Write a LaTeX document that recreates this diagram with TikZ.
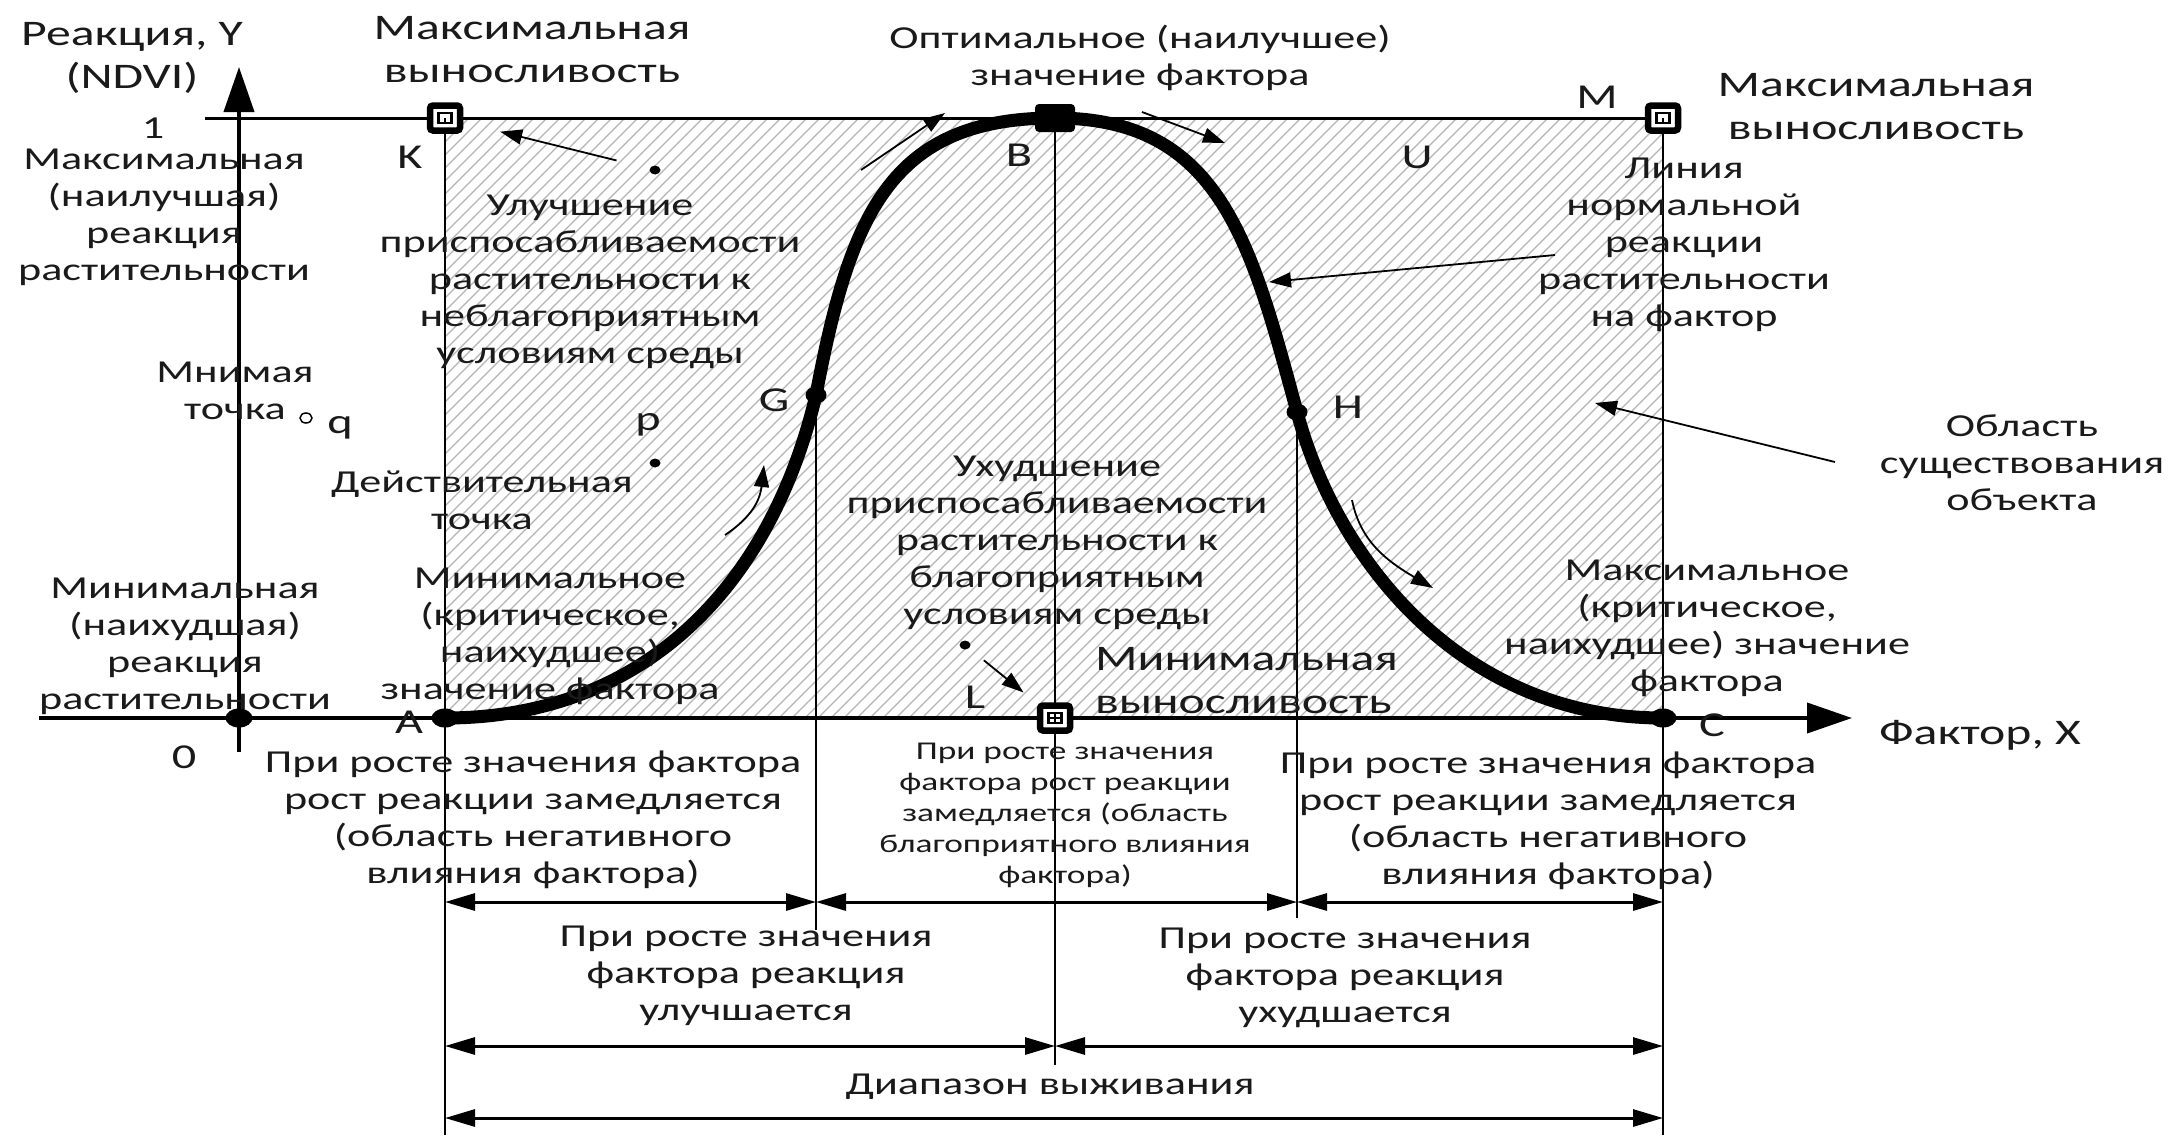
\documentclass[tikz,border=0pt]{standalone}
\usepackage{fontspec}
\setmainfont[FakeStretch=1.38]{Carlito}
\usetikzlibrary{arrows.meta,shapes.geometric}
\definecolor{ink}{HTML}{1A1A1A}
\definecolor{hatchc}{HTML}{B4B4B4}
\newcommand\fmain{\fontsize{32}{37}\selectfont}
\newcommand\ftitle{\fontsize{36}{43}\selectfont}
\newcommand\fsmall{\fontsize{25.6}{31}\selectfont}
\newcommand\flbl{\fontsize{35}{40}\selectfont}
\begin{document}
\begin{tikzpicture}[x=1pt,y=-1pt,
  txt/.style={align=center,inner sep=0pt,text=ink,font=\fmain},
  ttl/.style={align=center,inner sep=0pt,text=ink,font=\ftitle},
  sml/.style={align=center,inner sep=0pt,text=ink,font=\fsmall},
  lbl/.style={inner sep=0pt,text=ink,font=\flbl},
  axisline/.style={line width=4pt,-{Triangle[length=45pt,width=30pt]}},
  vline/.style={line width=2.5pt},
  dimarrow/.style={line width=3pt,{Triangle[length=30pt,width=17pt]}-{Triangle[length=30pt,width=17pt]}},
  ptr/.style={line width=1.8pt,-{Triangle[length=22pt,width=15pt]}},
  curveline/.style={line width=13pt,line join=round},
  dotbig/.style={ellipse,fill=black,inner sep=0pt,minimum width=27pt,minimum height=19pt},
  dotmid/.style={ellipse,fill=black,inner sep=0pt,minimum width=21pt,minimum height=17pt},
  dotsmall/.style={ellipse,fill=black,inner sep=0pt,minimum width=11pt,minimum height=9pt},
  dotopen/.style={ellipse,draw=black,line width=1.5pt,fill=white,inner sep=0pt,minimum width=12pt,minimum height=10pt},
  sqmark/.style={draw=black,line width=6.5pt,rounded corners=3pt,fill=white,inner sep=0pt,minimum width=30pt,minimum height=25pt},
  sqfill/.style={fill=black,rounded corners=4pt,inner sep=0pt,minimum width=40pt,minimum height=28pt},
  innerbox/.style={draw=black,line width=2.5pt,inner sep=0pt,minimum width=13pt,minimum height=10pt}
]
\useasboundingbox (0,0) rectangle (2183,1135);
\fill[white] (0,0) rectangle (2183,1135);

% key points
\coordinate (O) at (239,718);
\coordinate (Ytop) at (239,67);
\coordinate (Ybot) at (239,752);
\coordinate (Xl) at (39,718);
\coordinate (Xr) at (1852,718);
\coordinate (T0) at (205,118);
\coordinate (K) at (445,118);
\coordinate (M) at (1663,118);
\coordinate (B) at (1055,118);
\coordinate (A) at (445,718);
\coordinate (C) at (1663,718);
\coordinate (G) at (816,395);
\coordinate (H) at (1297,412);
\coordinate (L) at (1055,718);
\coordinate (Kb) at (445,1135);
\coordinate (Mb) at (1663,1135);
\coordinate (Bb) at (1055,1065);
\coordinate (Gb) at (816,930);
\coordinate (Hb) at (1297,918);

% hatched region
\begin{scope}
  \clip (K) rectangle (C);
  \foreach \i in {0,...,142}
    \draw[hatchc,line width=1.3pt] (\i*13-170,718) -- ++(620,-620);
\end{scope}

% lines
\draw[line width=3pt] (T0) -- (M);
\draw[vline] (K) -- (Kb);
\draw[vline] (M) -- (Mb);
\draw[line width=2pt] (B) -- (Bb);
\draw[line width=2pt] (G) -- (Gb);
\draw[line width=2pt] (H) -- (Hb);
\draw[axisline] (Ybot) -- (Ytop);
\draw[axisline] (Xl) -- (Xr);

% response curve
\draw[curveline] (A) .. controls (645,718) and (771,585) .. (G)
  .. controls (850,215) and (890,118) .. (B)
  .. controls (1220,118) and (1251,242) .. (H)
  .. controls (1337,562) and (1463,718) .. (C);

% markers
\node[dotbig] (Odot) at (O) {};
\node[dotbig] (Adot) at (A) {};
\node[dotbig] (Cdot) at (C) {};
\node[dotmid] (Gdot) at (G) {};
\node[dotmid] (Hdot) at (H) {};
\node[sqmark] (Km) at (K) {};
\node[innerbox] (Ki) at (K) {};
\draw[line width=2.5pt] (Ki.center) -- (Ki.south);
\node[sqmark] (Mm) at (M) {};
\node[innerbox] (Mi) at (M) {};
\draw[line width=2.5pt] (Mi.center) -- (Mi.south);
\node[sqfill] (Bm) at (B) {};
\node[sqmark] (Lm) at (L) {};
\node[innerbox] (Li) at (L) {};
\draw[line width=2.5pt] (Li.north) -- (Li.south) (Li.west) -- (Li.east);

% small points
\node[dotsmall] (kdot) at (655,170) {};
\node[dotsmall] (pdot) at (655,463) {};
\node[dotopen] (qdot) at (306,418) {};
\node[dotsmall] (ldot) at (965,645) {};

% pointer arrows
\draw[ptr,shorten <=34pt,shorten >=38pt] (kdot) -- (Km);
\draw[ptr,shorten <=19pt,shorten >=17pt] (ldot) -- (Lm);
\coordinate (b1s) at (861,170); \coordinate (b1e) at (945,113);
\draw[ptr] (b1s) -- (b1e);
\coordinate (b2s) at (1142,112); \coordinate (b2e) at (1225,143);
\draw[ptr] (b2s) -- (b2e);
\coordinate (g1s) at (725,535); \coordinate (g1e) at (764,465);
\draw[ptr] (g1s) .. controls (752,517) and (760,500) .. (g1e);
\coordinate (h1s) at (1352,500); \coordinate (h1e) at (1433,588);
\draw[ptr] (h1s) .. controls (1360,540) and (1385,560) .. (h1e);
\coordinate (n1s) at (1555,255); \coordinate (n1e) at (1269,282);
\draw[ptr] (n1s) -- (n1e);
\coordinate (o1s) at (1835,462); \coordinate (o1e) at (1595,403);
\draw[ptr] (o1s) -- (o1e);

% dimension arrows
\coordinate (r1) at (0,902);
\coordinate (r2) at (0,1046);
\coordinate (r3) at (0,1118);
\draw[dimarrow] (K |- r1) -- (G |- r1);
\draw[dimarrow] (G |- r1) -- (H |- r1);
\draw[dimarrow] (H |- r1) -- (M |- r1);
\draw[dimarrow] (K |- r2) -- (B |- r2);
\draw[dimarrow] (B |- r2) -- (M |- r2);
\draw[dimarrow] (K |- r3) -- (M |- r3);

% letter labels
\node[lbl] (lK) at (410,157) {K};
\node[lbl] (lB) at (1019,155) {B};
\node[lbl] (lU) at (1417,157) {U};
\node[lbl] (lM) at (1597,97) {M};
\node[lbl] (lG) at (774,400) {G};
\node[lbl] (lH) at (1348,407) {H};
\node[lbl] (lq) at (340,428) {q};
\node[lbl] (lp) at (648,425) {p};
\node[lbl] (lL) at (975,697) {L};
\node[lbl] (lA) at (409,722) {A};
\node[lbl] (lC) at (1712,725) {C};
\node[lbl] (l0) at (184,757) {0};
\node[txt] (l1) at (153,128) {1};

% texts
\node[ttl] (tY) at (132,58) {Реакция, Y\\(NDVI)};
\node[ttl] (tMaxL) at (532,50) {Максимальная\\выносливость};
\node[txt] (tOpt) at (1140,58) {Оптимальное (наилучшее)\\значение фактора};
\node[ttl] (tMaxR) at (1876,107) {Максимальная\\выносливость};
\node[txt] (tLine) at (1684,245) {Линия\\нормальной\\реакции\\растительности\\на фактор};
\node[txt] (tBest) at (164,217) {Максимальная\\(наилучшая)\\реакция\\растительности};
\node[txt] (tImp) at (590,282) {Улучшение\\приспосабливаемости\\растительности к\\неблагоприятным\\условиям среды};
\node[txt] (tImag) at (235,391) {Мнимая\\точка};
\node[txt] (tReal) at (482,500) {Действительная\\точка};
\node[txt] (tWorst) at (185,646) {Минимальная\\(наихудшая)\\реакция\\растительности};
\node[txt] (tMinF) at (550,636) {Минимальное\\(критическое,\\наихудшее)\\значение фактора};
\node[txt] (tDet) at (1057,543) {Ухудшение\\приспосабливаемости\\растительности к\\благоприятным\\условиям среды};
\node[ttl,anchor=west,align=left] (tMinE) at (1095,681) {Минимальная\\выносливость};
\node[txt] (tArea) at (2022,463) {Область\\существования\\объекта};
\node[txt] (tMaxF) at (1707,628) {Максимальное\\(критическое,\\наихудшее) значение\\фактора};
\node[ttl] (tX) at (1980,735) {Фактор, X};
\node[txt] (tNegL) at (533,820) {При росте значения фактора\\рост реакции замедляется\\(область негативного\\влияния фактора)};
\node[sml] (tPos) at (1065,815) {При росте значения\\фактора рост реакции\\замедляется (область\\благоприятного влияния\\фактора)};
\node[txt] (tNegR) at (1548,821) {При росте значения фактора\\рост реакции замедляется\\(область негативного\\влияния фактора)};
\node[txt] (tUp) at (746,976) {При росте значения\\фактора реакция\\улучшается};
\node[txt] (tDown) at (1345,978) {При росте значения\\фактора реакция\\ухудшается};
\node[txt] (tRange) at (1050,1087) {Диапазон выживания};
\end{tikzpicture}
\end{document}
